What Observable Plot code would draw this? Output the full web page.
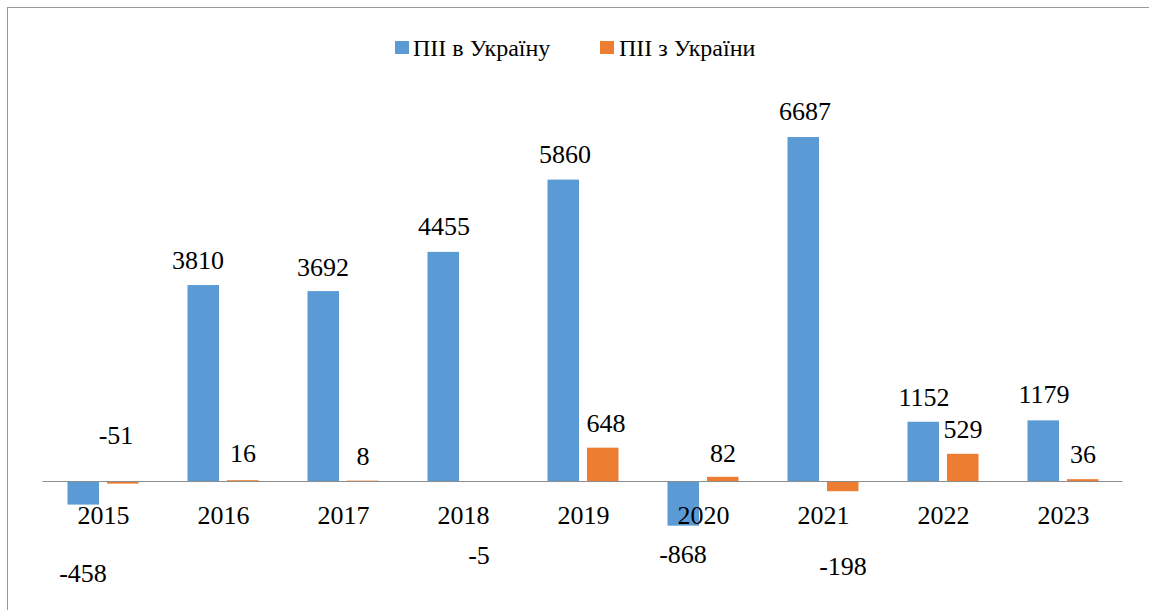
<!DOCTYPE html>
<html>
<head>
<meta charset="utf-8">
<script src="https://cdn.jsdelivr.net/npm/d3@7"></script>
<script src="https://cdn.jsdelivr.net/npm/@observablehq/plot@0.6"></script>
<style>
  body { margin: 0; background: #fff; }
  #wrap { position: relative; width: 1149px; height: 610px; overflow: hidden; font-family: "Liberation Serif", "DejaVu Serif", serif; }
  #frame { position: absolute; left: 7px; top: 7px; right: -10px; bottom: -10px; border-left: 1px solid #999; border-top: 1px solid #999; }
  #chart { position: absolute; left: 0; top: 0; }
  .lg-sw { position: absolute; width: 14px; height: 13px; top: 41px; }
  .lg-tx { position: absolute; top: 33px; font-size: 24px; line-height: 30px; color: #000; white-space: nowrap; }
</style>
</head>
<body>
<div id="wrap">
  <div id="frame"></div>
  <div id="chart"></div>
  <div id="legend"></div>
</div>
<script>
// ---- data ----
const years = ["2015", "2016", "2017", "2018", "2019", "2020", "2021", "2022", "2023"];
const seriesNames = ["ПІІ в Україну", "ПІІ з України"];
const inflows = [-458, 3810, 3692, 4455, 5860, -868, 6687, 1152, 1179];
const outflows = [-51, 16, 8, -5, 648, 82, -198, 529, 36];

// ---- style ----
const colors = ["#5B9BD5", "#ED7D31"];
// label nudges [dx, dy] in px relative to (year band centre, bar end), one per year
const labelNudgeIn = [[-20.5, 77.4], [-25.5, -17], [-20.5, -16], [-19.5, -17], [-18.5, -16.6], [-20.5, 37.3], [-18.5, -18], [-19.5, -16.7], [-19.5, -17.4]];
const labelNudgeOut = [[12.5, -40.6], [19.5, -18.2], [19.5, -16.6], [15.5, 82.7], [22.5, -15.7], [19.5, -15.8], [19.5, 82.8], [19.5, -16.8], [19.5, -17.1]];

const inData = years.map((year, i) => ({year, value: inflows[i]}));
const outData = years.map((year, i) => ({year, value: outflows[i]}));

const labelMarks = [];
inData.forEach((d, i) => {
  labelMarks.push(Plot.text([d], {x: "year", y: "value", text: (r) => String(r.value), dx: labelNudgeIn[i][0], dy: labelNudgeIn[i][1], lineAnchor: "bottom", textAnchor: "middle", fontSize: 26, fill: "#000"}));
});
outData.forEach((d, i) => {
  labelMarks.push(Plot.text([d], {x: "year", y: "value", text: (r) => String(r.value), dx: labelNudgeOut[i][0], dy: labelNudgeOut[i][1], lineAnchor: "bottom", textAnchor: "middle", fontSize: 26, fill: "#000"}));
});

const chart = Plot.plot({
  width: 1149,
  height: 610,
  marginLeft: 42.5,
  marginRight: 26.5,
  marginTop: 69.5,
  marginBottom: 26.1,
  style: {fontFamily: "'Liberation Serif', 'DejaVu Serif', serif", background: "transparent", overflow: "visible"},
  x: {type: "band", domain: years, padding: 0, axis: null},
  y: {domain: [-2000, 8000], axis: null},
  marks: [
    Plot.barY(inData, {x: "year", y: "value", fill: colors[0], insetLeft: 24.5, insetRight: 64}),
    Plot.barY(outData, {x: "year", y: "value", fill: colors[1], insetLeft: 64, insetRight: 24.5}),
    Plot.ruleY([0], {stroke: "#8c8c8c", strokeWidth: 1}),
    Plot.text(years, {x: (d) => d, y: () => 0, dy: 42, text: (d) => d, lineAnchor: "bottom", textAnchor: "middle", fontSize: 26, fill: "#000"}),
    ...labelMarks
  ]
});
document.getElementById("chart").appendChild(chart);

// legend
const legend = document.getElementById("legend");
const swX = [395, 600];
const txX = [413, 619];
seriesNames.forEach((name, i) => {
  const sw = document.createElement("div");
  sw.className = "lg-sw";
  sw.style.left = swX[i] + "px";
  sw.style.background = colors[i];
  legend.appendChild(sw);
  const tx = document.createElement("div");
  tx.className = "lg-tx";
  tx.style.left = txX[i] + "px";
  tx.textContent = name;
  legend.appendChild(tx);
});
</script>
</body>
</html>
